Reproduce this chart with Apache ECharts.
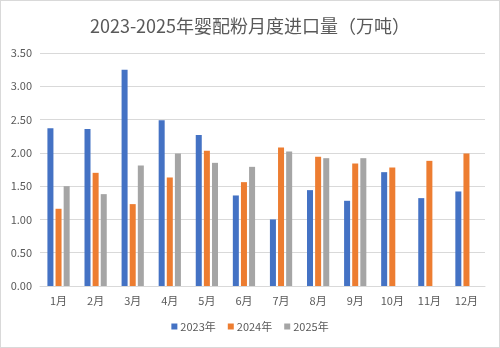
<!DOCTYPE html>
<html>
<head>
<meta charset="utf-8">
<script src="https://cdn.jsdelivr.net/npm/echarts@6/dist/echarts.min.js"></script>
<style>
  html, body { margin: 0; padding: 0; background: #fff; }
  #chart { width: 500px; height: 348px; box-sizing: border-box; border: 1px solid #d9d9d9; }
</style>
</head>
<body>
<div id="chart"></div>
<script>
// Monthly infant formula imports, 10k tonnes
const months = ['1月','2月','3月','4月','5月','6月','7月','8月','9月','10月','11月','12月'];
const y2023 = [2.37, 2.36, 3.25, 2.49, 2.27, 1.36, 1.00, 1.44, 1.28, 1.71, 1.32, 1.42];
const y2024 = [1.16, 1.70, 1.23, 1.63, 2.03, 1.56, 2.08, 1.94, 1.84, 1.78, 1.88, 1.99];
const y2025 = [1.50, 1.38, 1.81, 1.99, 1.85, 1.79, 2.02, 1.92, 1.92, null, null, null];
const seriesNames = ['2023年', '2024年', '2025年'];
const colors = ['#4472C4', '#ED7D31', '#A5A5A5'];

const chart = echarts.init(document.getElementById('chart'), null, { renderer: 'canvas' });
const font = '"Noto Sans CJK SC", "Noto Sans", sans-serif';

const makeSeries = (name, data, color) => ({
  name, type: 'bar', data,
  barGap: '35%', barCategoryGap: '40%',
  itemStyle: { color },
  emphasis: { disabled: true }
});

chart.setOption({
  animation: false,
  textStyle: { fontFamily: font },
  title: {
    text: '2023-2025年婴配粉月度进口量（万吨）',
    left: 'center', top: 11,
    textStyle: { fontFamily: font, fontSize: 18, fontWeight: 'normal', color: '#595959' }
  },
  legend: {
    data: seriesNames,
    bottom: 10, left: 'center',
    itemWidth: 6, itemHeight: 6, itemGap: 12,
    icon: 'rect',
    textStyle: { fontFamily: font, fontSize: 11, color: '#595959', padding: [0, 0, 0, -2] }
  },
  grid: { left: 39, right: 14, top: 52, bottom: 61, containLabel: false },
  xAxis: {
    type: 'category', data: months,
    axisLine: { lineStyle: { color: '#d9d9d9' } },
    axisTick: { show: false },
    axisLabel: { color: '#595959', fontSize: 11, margin: 9 }
  },
  yAxis: {
    type: 'value', min: 0, max: 3.5, interval: 0.5,
    axisLine: { show: false }, axisTick: { show: false },
    splitLine: { lineStyle: { color: '#d9d9d9' } },
    axisLabel: { color: '#595959', fontSize: 11, margin: 8, formatter: v => v.toFixed(2) }
  },
  series: [
    makeSeries(seriesNames[0], y2023, colors[0]),
    makeSeries(seriesNames[1], y2024, colors[1]),
    makeSeries(seriesNames[2], y2025, colors[2])
  ]
});
</script>
</body>
</html>
